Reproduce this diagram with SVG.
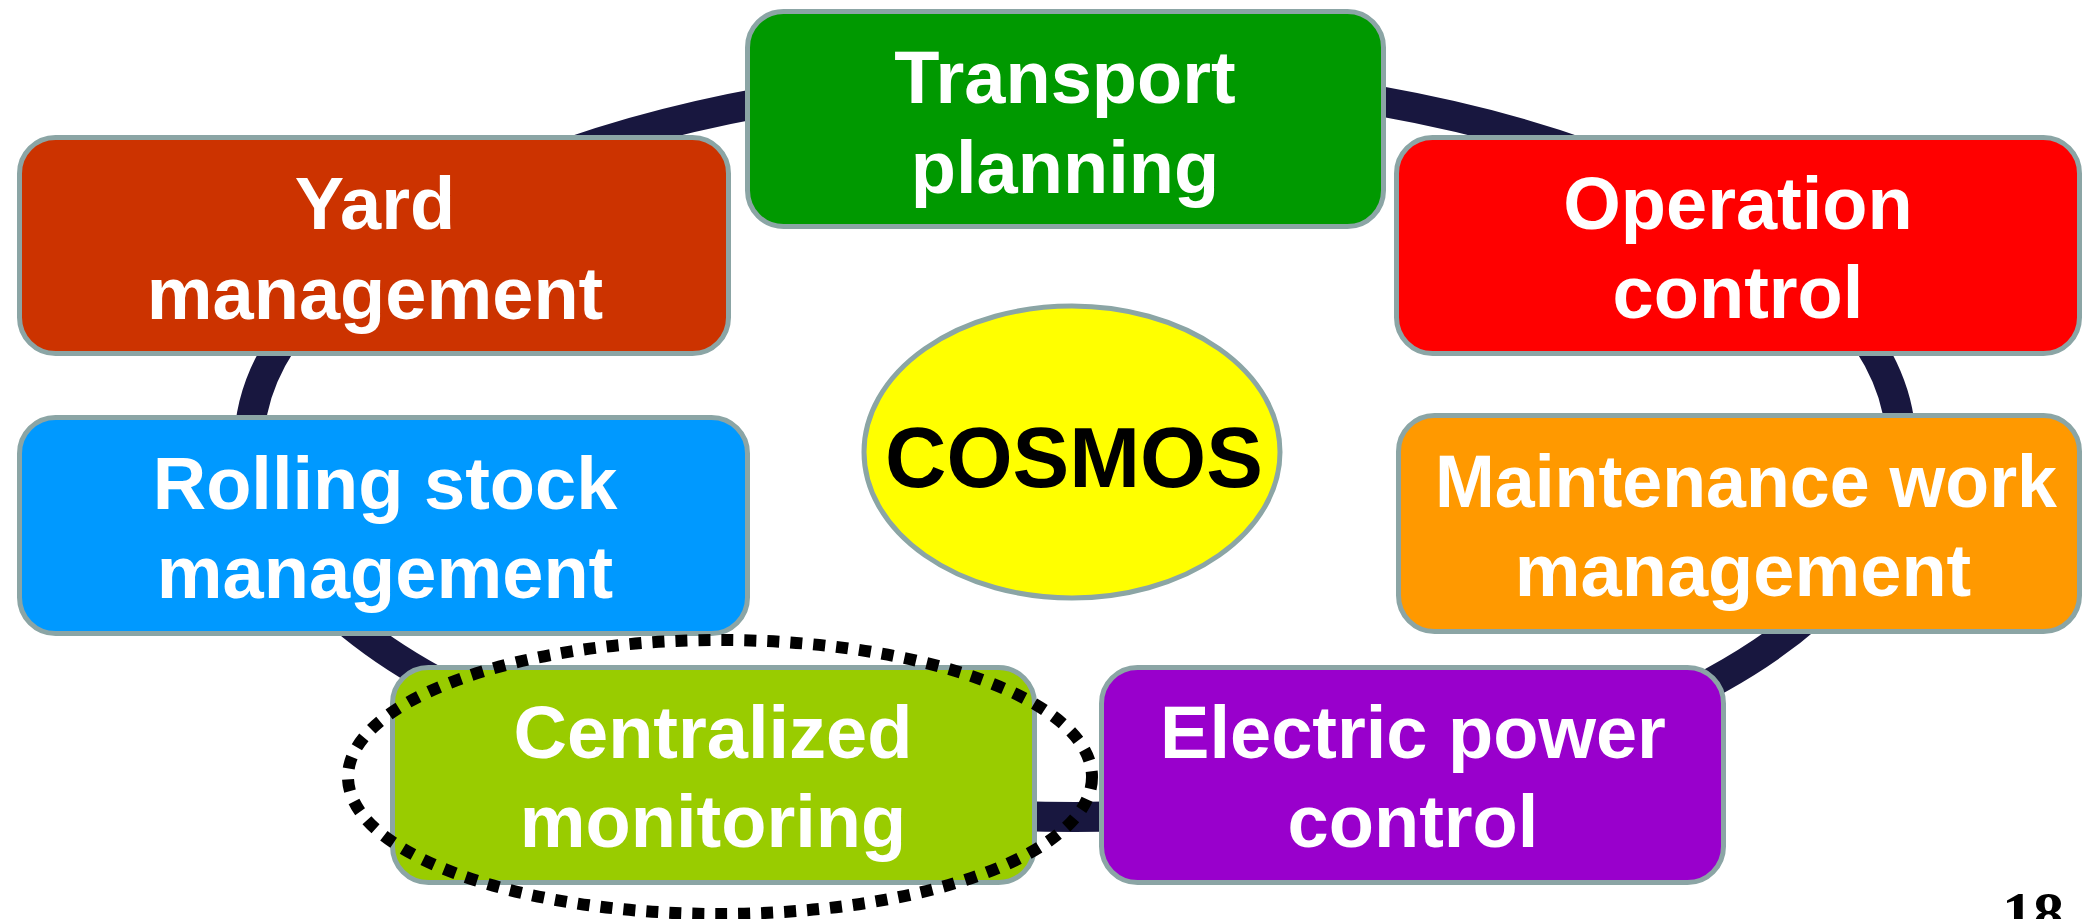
<svg xmlns="http://www.w3.org/2000/svg" width="2084" height="919" viewBox="0 0 2084 919">
<style>
.box{stroke:#8ba5a5;stroke-width:5}
.lbl{font-family:"Liberation Sans",Arial,sans-serif;font-weight:bold;font-size:74px;fill:#ffffff;text-anchor:middle}
</style>
<rect width="2084" height="919" fill="#ffffff"/>
<g id="connectors">
<ellipse cx="1075" cy="446" rx="826" ry="371" fill="none" stroke="#18173f" stroke-width="30"/>
</g>
<g id="transport">
<rect class="box" x="747.5" y="11.5" width="636" height="215" rx="36" fill="#009900"/>
<text class="lbl" x="1065" y="103">Transport</text>
<text class="lbl" x="1065" y="193">planning</text>
</g>
<g id="yard">
<rect class="box" x="19.5" y="137.5" width="709" height="216" rx="36" fill="#cc3300"/>
<text class="lbl" x="375" y="229">Yard</text>
<text class="lbl" x="375" y="319">management</text>
</g>
<g id="operation">
<rect class="box" x="1396.5" y="137.5" width="683" height="216" rx="36" fill="#ff0000"/>
<text class="lbl" x="1738" y="229">Operation</text>
<text class="lbl" x="1738" y="318">control</text>
</g>
<g id="rolling">
<rect class="box" x="19.5" y="417.5" width="728" height="216" rx="36" fill="#0099ff"/>
<text class="lbl" x="385" y="509">Rolling stock</text>
<text class="lbl" x="385" y="598">management</text>
</g>
<g id="maintenance">
<rect class="box" x="1398.5" y="415.5" width="681" height="216" rx="36" fill="#ff9900"/>
<text class="lbl" x="1746" y="507" textLength="622" lengthAdjust="spacingAndGlyphs">Maintenance work</text>
<text class="lbl" x="1743" y="596">management</text>
</g>
<g id="centralized">
<rect class="box" x="392.5" y="667.5" width="642" height="215" rx="36" fill="#99cc00"/>
<text class="lbl" x="713" y="758">Centralized</text>
<text class="lbl" x="713" y="847">monitoring</text>
</g>
<g id="electric">
<rect class="box" x="1101.5" y="667.5" width="622" height="215" rx="36" fill="#9900cc"/>
<text class="lbl" x="1413" y="758">Electric power</text>
<text class="lbl" x="1413" y="847">control</text>
</g>
<g id="cosmos">
<ellipse cx="1072" cy="452" rx="208" ry="146" fill="#ffff00" stroke="#8ba5a5" stroke-width="5"/>
<text x="1074" y="487" font-family="'Liberation Sans',Arial,sans-serif" font-weight="bold" font-size="85" fill="#000000" text-anchor="middle">COSMOS</text>
</g>
<g id="highlight">
<ellipse cx="720" cy="777" rx="372" ry="137" fill="none" stroke="#000000" stroke-width="12" stroke-dasharray="12 11"/>
</g>
<text x="2064" y="934" font-family="'Liberation Serif','Times New Roman',serif" font-weight="bold" font-size="62" fill="#000000" text-anchor="end">18</text>
</svg>
